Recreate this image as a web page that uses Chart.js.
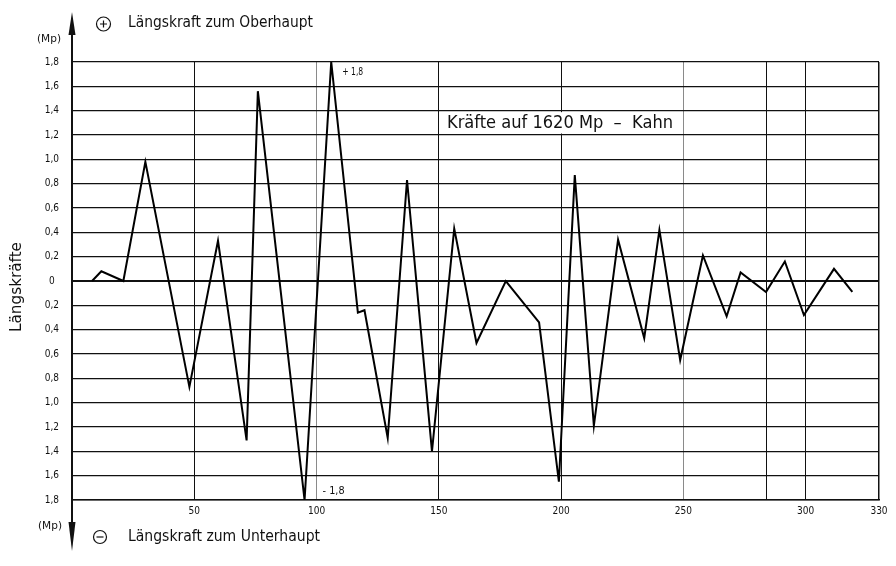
<!DOCTYPE html>
<html lang="de">
<head>
<meta charset="utf-8">
<title>Längskräfte – 1620 Mp Kahn</title>
<script src="https://cdn.jsdelivr.net/npm/chart.js@4/dist/chart.umd.min.js"></script>
<style>
  html, body { margin: 0; padding: 0; background: #fff; }
  canvas { display: block; }
</style>
</head>
<body>
<canvas id="c" width="896" height="566"></canvas>
<script>
// Stations along the lock chamber and the measured longitudinal force (Mp)
const stations = [8.2, 12, 21, 30, 48, 59.7, 71.4, 76, 95.1, 106, 116.9, 119.6, 129.1, 137, 147.2,
  156.3, 165.4, 177.4, 191, 199.1, 205.6, 213.4, 223.3, 234, 240.2, 248.7, 258, 267.7, 273.4,
  283.8, 291.5, 299.3, 311.6, 319.1];
const forces = [0, 0.08, 0, 0.98, -0.87, 0.33, -1.31, 1.56, -1.8, 1.8, -0.26, -0.24, -1.29, 0.83, -1.4,
  0.43, -0.51, 0, -0.34, -1.65, 0.87, -1.19, 0.34, -0.47, 0.42, -0.65, 0.21, -0.29, 0.07,
  -0.09, 0.16, -0.28, 0.1, -0.09];

// x axis: grid positions and their printed labels
const xTickValues = [0, 50, 100, 150, 200, 250, 284, 300, 330];
const xTickLabels = ['', '50', '100', '150', '200', '250', '', '300', '330'];
const greyXLines = [100, 250];

// peak values that carry a written label
const maxForce = 1.8;
const minForce = -1.8;

const FONT = "'DejaVu Sans Condensed', 'DejaVu Sans', sans-serif";

function fmtComma(v) {
  const a = Math.abs(v);
  if (a < 1e-9) return '0';
  return a.toFixed(1).replace('.', ',');
}

// draws text squeezed/stretched to a given width
function fitText(ctx, text, x, y, width, font, align) {
  ctx.save();
  ctx.font = font;
  ctx.textBaseline = 'middle';
  ctx.textAlign = 'left';
  const w = ctx.measureText(text).width;
  const sx = width / w;
  let x0 = x;
  if (align === 'center') x0 = x - width / 2;
  ctx.translate(x0, y);
  ctx.scale(sx, 1);
  ctx.fillText(text, 0, 0);
  ctx.restore();
}

const decorations = {
  id: 'decorations',
  beforeDatasetsDraw(chart) {
    const { ctx, chartArea: ca, scales: { x, y } } = chart;
    // white field behind the caption
    ctx.save();
    ctx.fillStyle = '#fff';
    ctx.fillRect(441, y.getPixelForValue(1.4) + 1.5, 681 - 441, y.getPixelForValue(1.2) - y.getPixelForValue(1.4) - 3);
    ctx.restore();
  },
  afterDraw(chart) {
    const { ctx, chartArea: ca, scales: { x, y } } = chart;
    ctx.save();
    ctx.fillStyle = '#111';
    ctx.strokeStyle = '#111';

    // vertical force axis extended with arrows
    const ax = ca.left;
    ctx.lineWidth = 2;
    ctx.beginPath();
    ctx.moveTo(ax, 30); ctx.lineTo(ax, ca.top);
    ctx.moveTo(ax, ca.bottom); ctx.lineTo(ax, 535);
    ctx.stroke();
    ctx.beginPath();
    ctx.moveTo(ax, 12); ctx.lineTo(ax - 3.5, 35); ctx.lineTo(ax + 3.5, 35); ctx.closePath();
    ctx.fill();
    ctx.beginPath();
    ctx.moveTo(ax, 551); ctx.lineTo(ax - 3.5, 522); ctx.lineTo(ax + 3.5, 522); ctx.closePath();
    ctx.fill();

    // unit labels
    fitText(ctx, '(Mp)', 49, 39, 24, '10px ' + FONT, 'center');
    fitText(ctx, '(Mp)', 50, 526, 24, '10px ' + FONT, 'center');

    // plus / minus symbols
    ctx.lineWidth = 1.2;
    ctx.beginPath(); ctx.arc(103.5, 24, 7, 0, Math.PI * 2); ctx.stroke();
    ctx.beginPath();
    ctx.moveTo(100, 24); ctx.lineTo(107, 24);
    ctx.moveTo(103.5, 20.5); ctx.lineTo(103.5, 27.5);
    ctx.stroke();
    ctx.beginPath(); ctx.arc(100, 537, 6.5, 0, Math.PI * 2); ctx.stroke();
    ctx.beginPath();
    ctx.moveTo(96.5, 537); ctx.lineTo(103.5, 537);
    ctx.stroke();

    // direction captions
    fitText(ctx, 'Längskraft zum Oberhaupt', 128, 23, 185, '16px ' + FONT, 'left');
    fitText(ctx, 'Längskraft zum Unterhaupt', 128, 537, 192, '16px ' + FONT, 'left');

    // axis title
    ctx.save();
    ctx.translate(17, 287);
    ctx.rotate(-Math.PI / 2);
    fitText(ctx, 'Längskräfte', 0, 0, 90, '15px ' + FONT, 'center');
    ctx.restore();

    // chart caption
    fitText(ctx, 'Kräfte auf 1620 Mp  –  Kahn', 447, (y.getPixelForValue(1.4) + y.getPixelForValue(1.2)) / 2 + 1, 226, '17px ' + FONT, 'left');

    // extreme-value labels next to the peaks
    const iMax = forces.indexOf(maxForce);
    const iMin = forces.indexOf(minForce);
    const pMaxX = x.getPixelForValue(stations[iMax]);
    const pMaxY = y.getPixelForValue(forces[iMax]);
    const pMinX = x.getPixelForValue(stations[iMin]);
    const pMinY = y.getPixelForValue(forces[iMin]);
    fitText(ctx, '+ ' + fmtComma(maxForce), pMaxX + 11, pMaxY + 10, 21, '10px ' + FONT, 'left');
    fitText(ctx, '- ' + fmtComma(minForce), pMinX + 18, pMinY - 9, 22, '10px ' + FONT, 'left');

    ctx.restore();
  }
};

new Chart(document.getElementById('c'), {
  type: 'line',
  data: {
    datasets: [{
      data: stations.map((s, i) => ({ x: s, y: forces[i] })),
      borderColor: '#000',
      borderWidth: 2,
      pointRadius: 0,
      tension: 0,
      fill: false
    }]
  },
  options: {
    responsive: false,
    animation: false,
    devicePixelRatio: 1,
    layout: { padding: { top: 62, right: 17, bottom: 0, left: 0 } },
    plugins: { legend: { display: false }, tooltip: { enabled: false } },
    scales: {
      x: {
        type: 'linear',
        min: 0,
        max: 330,
        afterFit(scale) { scale.height = 66; },
        afterBuildTicks(scale) { scale.ticks = xTickValues.map(v => ({ value: v })); },
        ticks: {
          autoSkip: false,
          maxRotation: 0,
          padding: 5,
          color: '#111',
          font: { family: FONT, size: 10 },
          callback(value) {
            const i = xTickValues.indexOf(value);
            return i >= 0 ? xTickLabels[i] : '';
          }
        },
        grid: {
          drawTicks: false,
          color(ctx) {
            const v = ctx.tick && ctx.tick.value;
            return greyXLines.includes(v) ? '#8a8a8a' : '#111';
          },
          lineWidth(ctx) {
            const v = ctx.tick && ctx.tick.value;
            return v === 330 ? 1.5 : 1;
          }
        },
        border: { color: '#111', width: 1.5 }
      },
      y: {
        type: 'linear',
        min: -1.8,
        max: 1.8,
        afterFit(scale) { scale.width = 72; },
        ticks: {
          stepSize: 0.2,
          padding: 13,
          crossAlign: 'center',
          color: '#111',
          font: { family: FONT, size: 10 },
          callback(value) { return fmtComma(value); }
        },
        grid: {
          drawTicks: false,
          color: '#111',
          lineWidth(ctx) {
            const v = ctx.tick ? Math.abs(ctx.tick.value) : 1;
            return v < 1e-9 ? 2 : 1.2;
          }
        },
        border: { color: '#111', width: 2 }
      }
    }
  },
  plugins: [decorations]
});
</script>
</body>
</html>
